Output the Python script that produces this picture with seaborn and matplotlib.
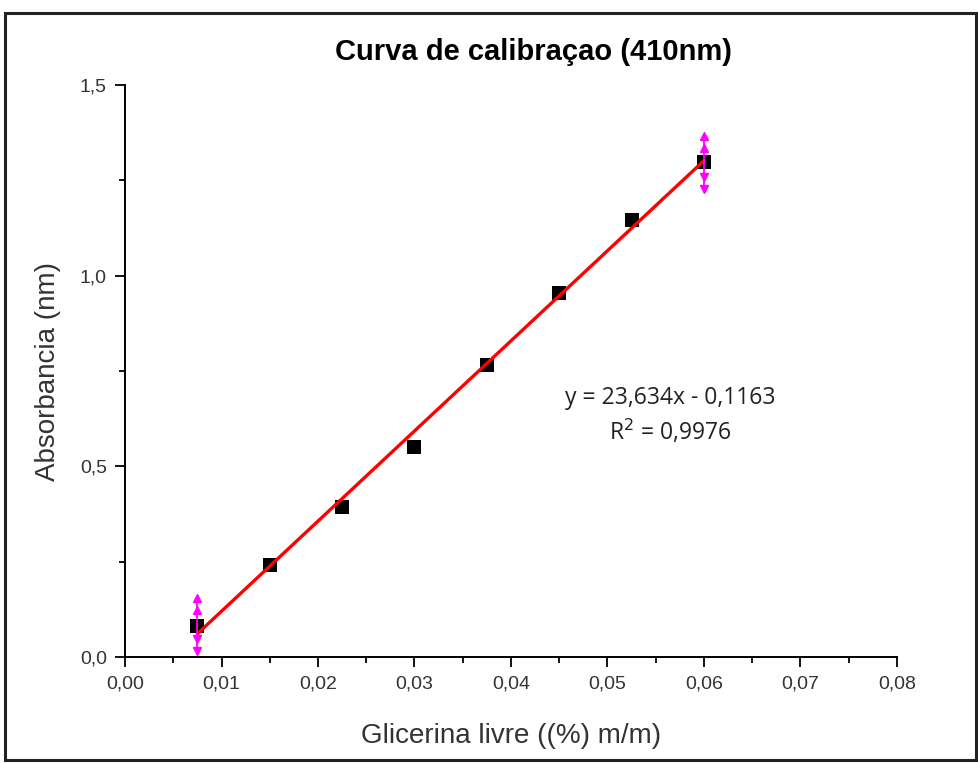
import numpy as np
import pandas as pd
import matplotlib
matplotlib.use("Agg")
import matplotlib.pyplot as plt
from matplotlib.patches import Rectangle
from matplotlib.ticker import MultipleLocator, FuncFormatter
import seaborn as sns

# Calibration standards: free glycerol concentration vs absorbance at 410 nm
glicerina = [0.0075, 0.015, 0.0225, 0.030, 0.0375, 0.045, 0.0525, 0.060]
absorbancia = [0.081, 0.241, 0.393, 0.551, 0.766, 0.955, 1.146, 1.298]

# Linear fit reported on the chart
slope = 23.634
intercept = -0.1163
r2 = 0.9976

# Error bars shown at the ends of the fitted range
err_x = [0.0075, 0.060]
err_y = [0.085, 1.296]
err_size = [0.07, 0.07]

sns.set_theme(style="white")
plt.rcParams["font.family"] = ["Liberation Sans", "DejaVu Sans"]

fig = plt.figure(figsize=(9.79, 7.63), dpi=100)
ax = fig.add_axes([0.1277, 0.1389, 0.7885, 0.7497])

df = pd.DataFrame({"x": glicerina, "y": absorbancia})
sns.scatterplot(data=df, x="x", y="y", marker="s", s=110, color="black",
                edgecolor="black", linewidth=0, ax=ax, zorder=3)

fit_x = np.array([glicerina[0], glicerina[-1]])
fit_y = slope * fit_x + intercept
sns.lineplot(x=fit_x, y=fit_y, color="#ff0000", linewidth=2.4, ax=ax, zorder=4)

for xe, ye, e in zip(err_x, err_y, err_size):
    ax.plot([xe, xe], [ye - e, ye + e], color="#ff00ff", linewidth=1.3, zorder=5)
    ax.plot([xe, xe], [ye + e, ye + e * 0.55], linestyle="none", marker="^",
            markersize=6, color="#ff00ff", zorder=5)
    ax.plot([xe, xe], [ye - e, ye - e * 0.55], linestyle="none", marker="v",
            markersize=6, color="#ff00ff", zorder=5)

ax.set_xlim(0, 0.08)
ax.set_ylim(0, 1.5)
ax.xaxis.set_major_locator(MultipleLocator(0.01))
ax.xaxis.set_minor_locator(MultipleLocator(0.005))
ax.yaxis.set_major_locator(MultipleLocator(0.5))
ax.yaxis.set_minor_locator(MultipleLocator(0.25))
ax.xaxis.set_major_formatter(FuncFormatter(lambda v, p: f"{v:.2f}".replace(".", ",")))
ax.yaxis.set_major_formatter(FuncFormatter(lambda v, p: f"{v:.1f}".replace(".", ",")))

ax.tick_params(axis="both", which="major", direction="out", length=7, width=1.3,
               labelsize=14, color="black", labelcolor="#333333", bottom=True, left=True)
ax.tick_params(axis="both", which="minor", direction="out", length=4, width=1.3,
               color="black", bottom=True, left=True)
ax.tick_params(axis="x", which="major", pad=6)
ax.tick_params(axis="y", which="major", pad=6)

for side in ["top", "right"]:
    ax.spines[side].set_visible(False)
for side in ["left", "bottom"]:
    ax.spines[side].set_color("black")
    ax.spines[side].set_linewidth(1.4)

ax.set_xlabel("Glicerina livre ((%) m/m)", fontsize=20, color="#333333", labelpad=22)
ax.set_ylabel("Absorbancia (nm)", fontsize=20, color="#333333", labelpad=14)
ax.grid(False)

fig.text(0.545, 0.932, "Curva de calibraçao (410nm)", ha="center", va="center",
         fontsize=21, fontweight="bold", color="black")

ax.text(0.0565, 0.679, f"y = {slope:.3f}x - {abs(intercept):.4f}".replace(".", ","),
        ha="center", va="center", fontsize=16.5, color="#222222", family=["Open Sans", "DejaVu Sans"])
ax.text(0.0565, 0.590, f"R$^2$ = {r2:.4f}".replace(".", ","),
        ha="center", va="center", fontsize=16.5, color="#222222", family=["Open Sans", "DejaVu Sans"])

# Frame around the whole figure
fig.patches.append(Rectangle((5 / 979, 3 / 763), 971 / 979, 747 / 763,
                             transform=fig.transFigure, fill=False,
                             edgecolor="#222222", linewidth=2.2, zorder=10))

fig.savefig("out.png", dpi=100)
